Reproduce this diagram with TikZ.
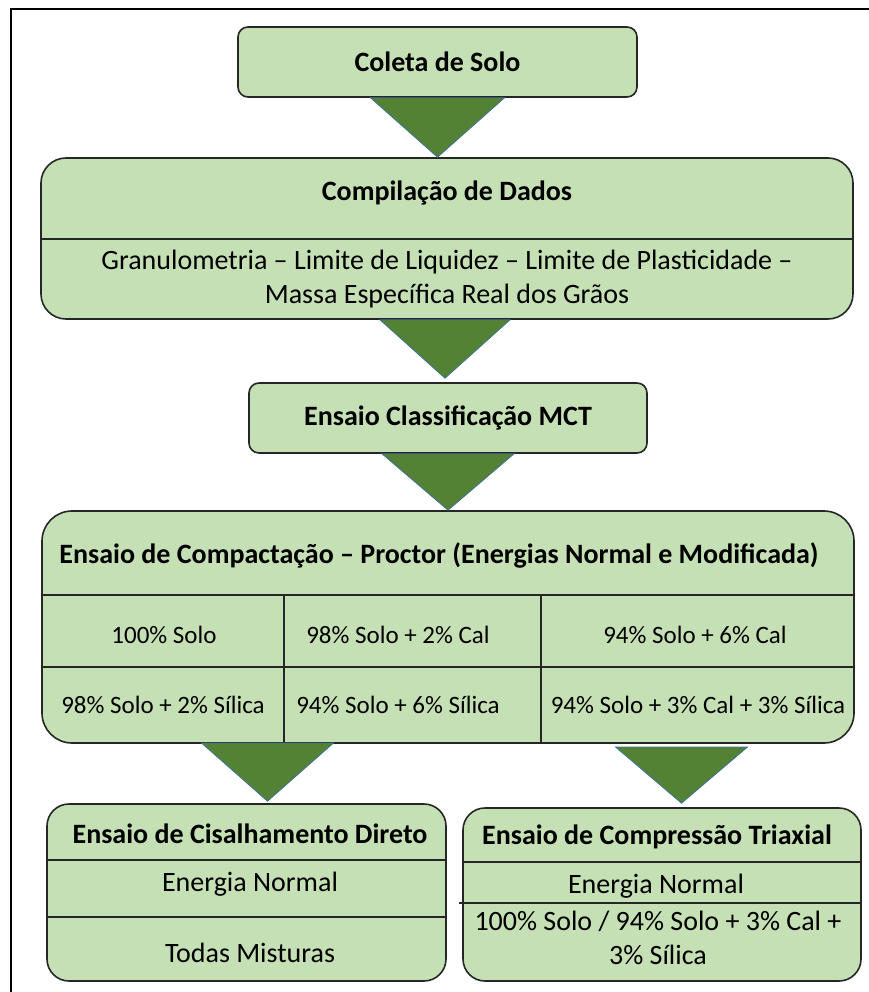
\documentclass[tikz,border=0pt]{standalone}
\usepackage{fontspec}
\setmainfont{Carlito}
\usepackage{xcolor}
\usetikzlibrary{positioning}
\usetikzlibrary{calc}

\definecolor{verdeclaro}{HTML}{C5E0B4}
\definecolor{verdeescuro}{HTML}{548235}
\definecolor{azulborda}{HTML}{41719C}

\tikzset{
	caixa/.style={draw=black!85, line width=1.6pt, fill=verdeclaro, inner sep=0pt},
	titulo/.style={font=\fontsize{28}{34}\selectfont\bfseries, inner sep=0pt},
	texto/.style={font=\fontsize{28}{34}\selectfont, inner sep=0pt, align=center},
	celula/.style={font=\fontsize{25}{30}\selectfont, inner sep=0pt},
	divisa/.style={draw=black!85, line width=1.3pt},
	seta/.style={fill=verdeescuro, draw=azulborda, line width=0.8pt},
}

\begin{document}
\begin{tikzpicture}[x=1pt, y=-1pt]
		\useasboundingbox (0,0) rectangle (869,992);
		% moldura
		\draw[line width=2.5pt] (11,992) -- (11,9) -- (869,9);
		
		% caixas
		\node[caixa, rounded corners=10pt, minimum width=399pt, minimum height=70pt] (coleta) at (437.5,62) {};
		\node[caixa, rounded corners=25pt, minimum width=812pt, minimum height=161pt] (compil) at (447,238.5) {};
		\node[caixa, rounded corners=10pt, minimum width=398pt, minimum height=70pt] (mct) at (448,418) {};
		\node[caixa, rounded corners=30pt, minimum width=812pt, minimum height=232pt] (compact) at (448,627) {};
		\node[caixa, rounded corners=22pt, minimum width=399pt, minimum height=177pt] (cis) at (246.5,892.5) {};
		\node[caixa, rounded corners=22pt, minimum width=398pt, minimum height=173pt] (triax) at (662,894.5) {};
		
		% divisorias
		\draw[divisa] (compil.west |- 0,239) -- (compil.east |- 0,239);
		\draw[divisa] (compact.west |- 0,595) -- (compact.east |- 0,595);
		\draw[divisa] (compact.west |- 0,667) -- (compact.east |- 0,667);
		\draw[divisa] (284,595) -- (284,743);
		\draw[divisa] (541,595) -- (541,743);
		\draw[divisa] (cis.west |- 0,860) -- (cis.east |- 0,860);
		\draw[divisa] (cis.west |- 0,917) -- (cis.east |- 0,917);
		\draw[divisa] (triax.west |- 0,862) -- (triax.east |- 0,862);
		\draw[divisa] ($(triax.west |- 0,903)+(-3,0)$) -- (triax.east |- 0,903);
		
		% textos
		\node[titulo] (coletaT) at (coleta) {Coleta de Solo};
		\node[titulo] (compilT) at (447,193) {Compilação de Dados};
		\node[texto] (compilG) at (447,279) {Granulometria – Limite de Liquidez – Limite de Plasticidade –\\Massa Específica Real dos Grãos};
		\node[titulo] (mctT) at (mct) {Ensaio Classificação MCT};
		\node[titulo] (compactT) at (439,555) {Ensaio de Compactação – Proctor (Energias Normal e Modificada)};
		\node[celula] (c11) at (164,635) {100\% Solo};
		\node[celula] (c12) at (398,635) {98\% Solo + 2\% Cal};
		\node[celula] (c13) at (695,635) {94\% Solo + 6\% Cal};
		\node[celula] (c21) at (163,705) {98\% Solo + 2\% Sílica};
		\node[celula] (c22) at (398,705) {94\% Solo + 6\% Sílica};
		\node[celula] (c23) at (698,705) {94\% Solo + 3\% Cal + 3\% Sílica};
		\node[titulo] (cisT) at (250,834) {Ensaio de Cisalhamento Direto};
		\node[texto] (cisE) at (250,884) {Energia Normal};
		\node[texto] (cisM) at (250,953) {Todas Misturas};
		\node[titulo] (triaxT) at (657,837) {Ensaio de Compressão Triaxial};
		\node[texto] (triaxE) at (656,886) {Energia Normal};
		\node[texto] (triaxM) at (658,937.5) {100\% Solo / 94\% Solo + 3\% Cal +\\3\% Sílica};
		
		% setas
		\coordinate (s4) at (267.5,743);
		\coordinate (s5) at (681.5,747);
		\draw[seta] ($(coleta.south)+(-67,0)$) -- ($(coleta.south)+(67,0)$) -- (coleta.south |- compil.north) -- cycle;
		\draw[seta] ($(compil.south)+(-67,0)$) -- ($(compil.south)+(63,0)$) -- ($(mct.north)+(-3,-4)$) -- cycle;
		\draw[seta] ($(mct.south)+(-66,0)$) -- ($(mct.south)+(66,0)$) -- (compact.north) -- cycle;
		\draw[seta] ($(s4)+(-66,0)$) -- ($(s4)+(66,0)$) -- ($(s4 |- cis.north)+(0,-2)$) -- cycle;
		\draw[seta] ($(s5)+(-66,0)$) -- ($(s5)+(66,0)$) -- ($(s5 |- triax.north)+(0,-4)$) -- cycle;
	\end{tikzpicture}
\end{document}
